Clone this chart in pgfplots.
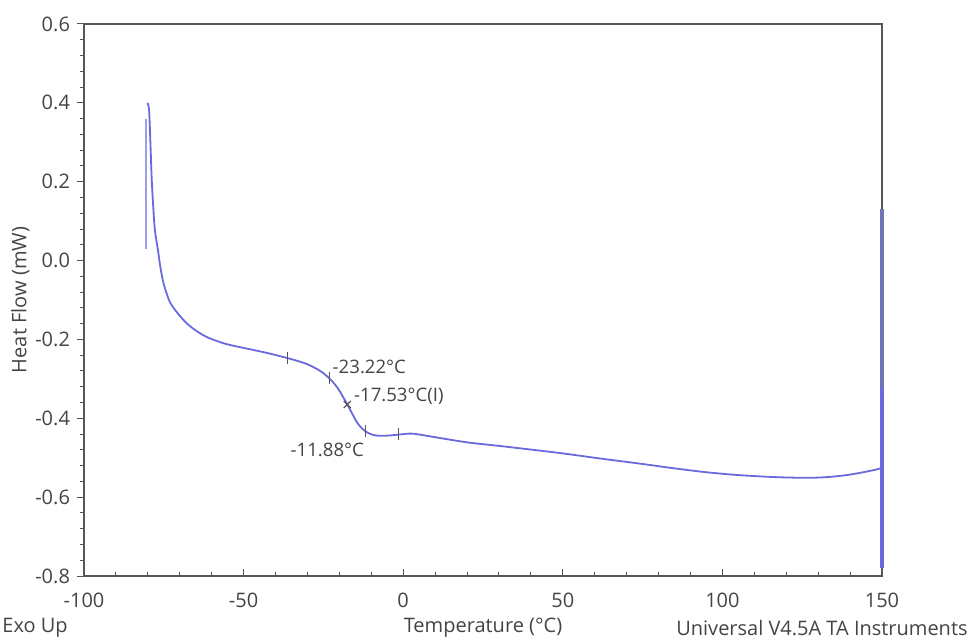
\documentclass[border=0pt]{standalone}
\usepackage{pgfplots}
\pgfplotsset{compat=1.18}
\usetikzlibrary{calc}
\usepackage{fontspec}
\setmainfont{Open Sans}
\definecolor{txt}{HTML}{444444}
\definecolor{ax}{HTML}{555555}
\definecolor{crv}{HTML}{6A6ADC}
\begin{document}
\begin{tikzpicture}
\begin{axis}[
  scale only axis, width=399pt, height=276pt,
  xmin=-100, xmax=150, ymin=-0.8, ymax=0.6,
  xtick={-100,-50,0,50,100,150}, ytick={-0.8,-0.6,-0.4,-0.2,0,0.2,0.4,0.6},
  minor x tick num=4, minor y tick num=4,
  tick pos=left,
  xtick align=inside, ytick align=outside,
  major tick length=3.5pt, minor tick length=2pt,
  axis line style={ax, line width=0.7pt},
  every tick/.style={ax, line width=0.5pt},
  /pgf/number format/assume math mode=true,
  yticklabel style={/pgf/number format/fixed, /pgf/number format/fixed zerofill, /pgf/number format/precision=1, font=\fontsize{10}{12}\selectfont, text=txt},
  xticklabel style={font=\fontsize{10}{12}\selectfont, text=txt, yshift=-5pt},
  scaled y ticks=false,
  ylabel={Heat Flow (mW)},
  ylabel style={font=\fontsize{10}{12}\selectfont, text=txt, yshift=-4pt},
  clip=false,
]
\addplot[crv!65, line width=1.3pt] coordinates {(-80.6,0.03) (-80.6,0.36)};
\addplot[crv, line width=0.9pt, smooth, tension=0.5] coordinates {
(-80.1,0.40) (-79.6,0.38) (-79.2,0.30) (-78.8,0.21) (-78.3,0.135) (-77.8,0.078)
(-76.9,0.03) (-76.0,-0.02) (-75.0,-0.06) (-73.1,-0.105) (-70.5,-0.135)
(-67.7,-0.16) (-64.5,-0.18) (-61.5,-0.194) (-58,-0.205) (-54.3,-0.214)
(-43.9,-0.232) (-36.4,-0.247) (-30,-0.263) (-25.1,-0.285) (-21,-0.318)
(-17.5,-0.365) (-14.5,-0.41) (-12,-0.432) (-9,-0.443) (-5,-0.444) (-1,-0.441)
(3,-0.439) (10,-0.448) (20,-0.461) (30,-0.470) (40.7,-0.480) (50,-0.489)
(61.7,-0.502) (74.2,-0.515) (85,-0.527) (95.2,-0.537) (105,-0.544) (116,-0.549)
(126.5,-0.551) (133,-0.549) (139,-0.544) (144,-0.537) (148.7,-0.529) (150,-0.525)};
\addplot[crv!60!gray, line width=1.6pt] coordinates {(150,0.13) (150,-0.32)};
\addplot[crv, line width=1.6pt] coordinates {(150,-0.32) (150,-0.78)};
\addplot[only marks, mark=|, mark size=3pt, ax, mark options={line width=0.5pt}] coordinates {
(-36.4,-0.247) (-23.22,-0.297) (-11.88,-0.432) (-1.6,-0.441)};
\addplot[only marks, mark=x, mark size=2.5pt, ax, mark options={line width=0.6pt}] coordinates {(-17.53,-0.365)};
\node[anchor=west, font=\fontsize{9.3}{11}\selectfont, text=txt, inner sep=0pt] at (axis cs:-22.2,-0.27) {-23.22°C};
\node[anchor=west, font=\fontsize{9.3}{11}\selectfont, text=txt, inner sep=0pt] at (axis cs:-15.5,-0.343) {-17.53°C(I)};
\node[anchor=east, font=\fontsize{9.3}{11}\selectfont, text=txt, inner sep=0pt] at (axis cs:-12.2,-0.48) {-11.88°C};
\end{axis}
\path ([yshift=-26pt]current axis.south west) coordinate (bl);
\path ([yshift=-26pt]current axis.south east) coordinate (br);
\node[anchor=west, font=\fontsize{10}{12}\selectfont, text=txt, inner sep=0pt] at ([xshift=-41pt]bl) {Exo Up};
\node[anchor=center, font=\fontsize{10}{12}\selectfont, text=txt, inner sep=0pt] at ($(bl)!0.5!(br)$) {Temperature (°C)};
\node[anchor=east, font=\fontsize{10}{12}\selectfont, text=txt, inner sep=0pt] at ([xshift=43pt]br) {Universal V4.5A TA Instruments};
\useasboundingbox ([xshift=-42pt,yshift=-31.5pt]current axis.south west) rectangle ([xshift=45pt,yshift=12pt]current axis.north east);
\end{tikzpicture}
\end{document}
